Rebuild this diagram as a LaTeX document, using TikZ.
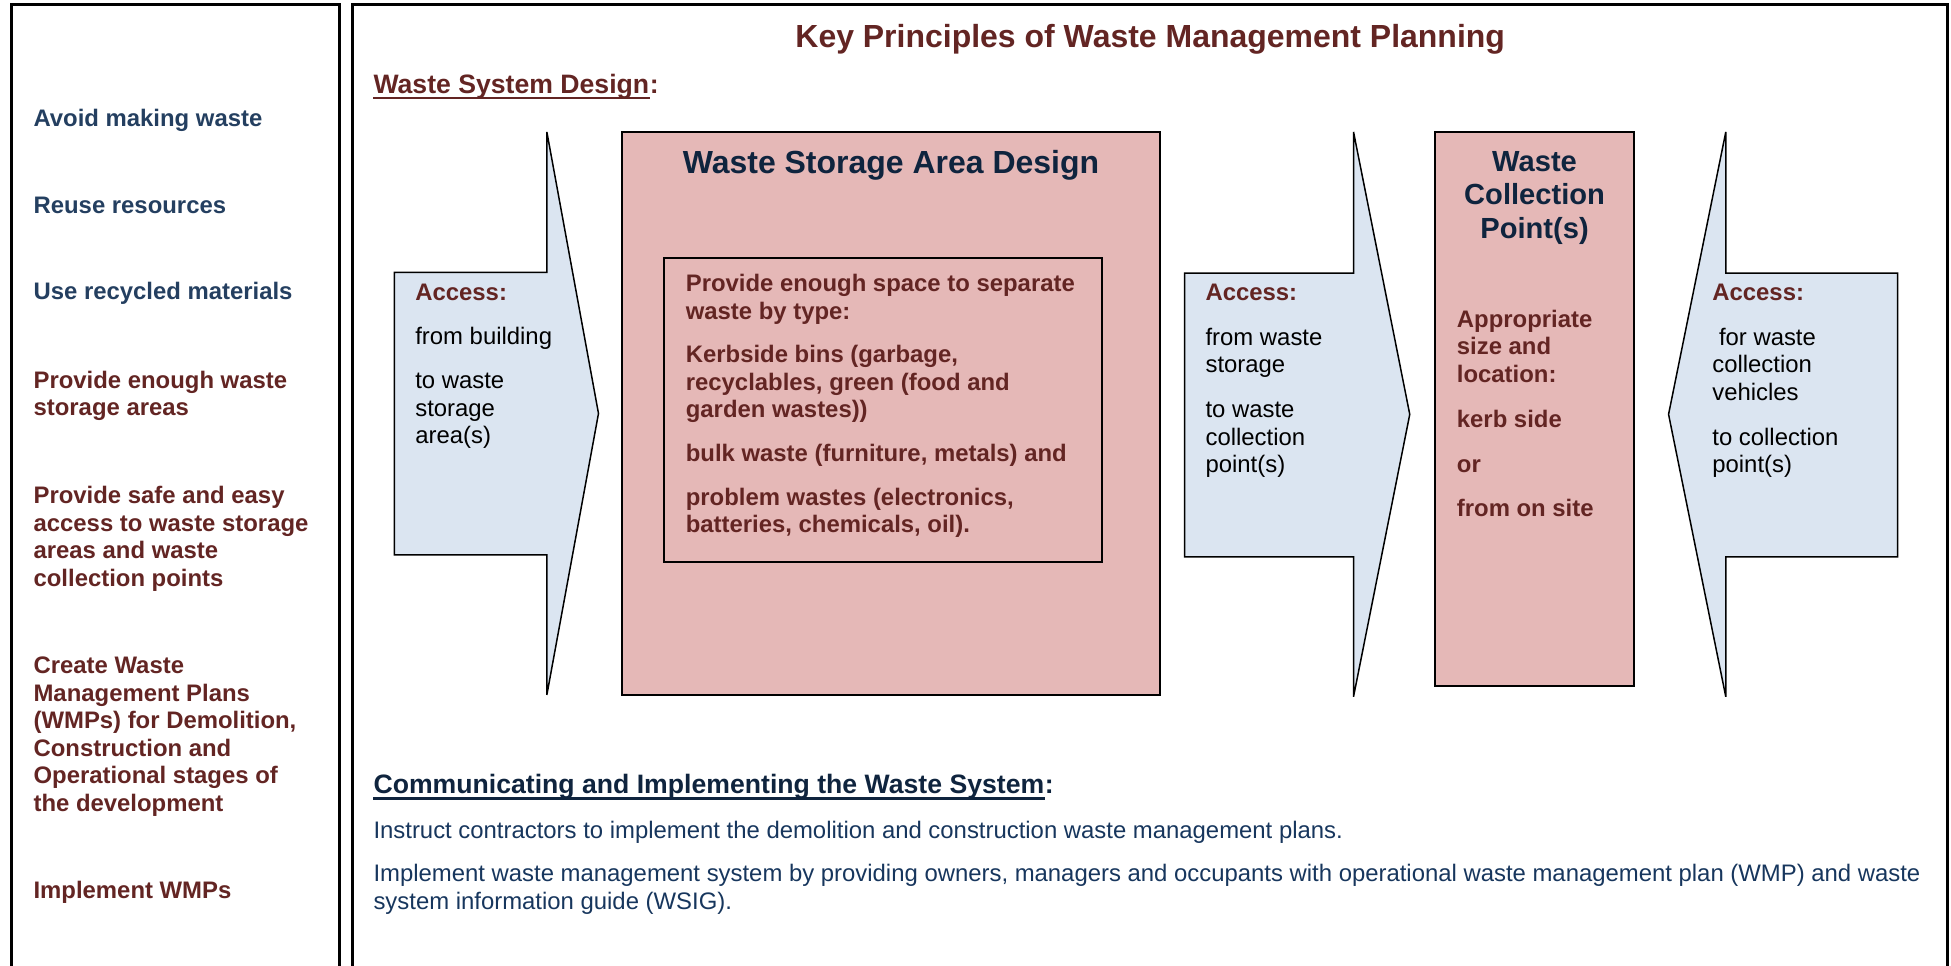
\documentclass[tikz,border=0pt]{standalone}
\usepackage{fontspec}
\setmainfont{Liberation Sans}
\definecolor{dred}{HTML}{632523}
\definecolor{navy}{HTML}{243F60}
\definecolor{dnavy}{HTML}{0F243E}
\definecolor{bnavy}{HTML}{17365D}
\definecolor{pinkfill}{HTML}{E5B8B7}
\definecolor{bluefill}{HTML}{DBE5F1}
\newcommand\mystrut{\rule{0pt}{14.6pt}}
\newcommand\mytstrut{\rule{0pt}{17.8pt}}
\tikzset{
  txt/.style={inner sep=0pt, anchor=north west, align=left, font=\fontsize{19.2}{22.1}\selectfont},
  txtb/.style={txt, font=\fontsize{19.2}{22.1}\selectfont\bfseries},
  subhead/.style={inner sep=0pt, anchor=base west, font=\fontsize{21.4}{24}\selectfont\bfseries},
  bigtitle/.style={inner sep=0pt, anchor=base, font=\fontsize{25.7}{30}\selectfont\bfseries},
  arrowshape/.style={draw=black, line width=1.2pt, fill=bluefill, line join=miter},
  boxshape/.style={draw=black, line width=1.6pt, fill=pinkfill},
  frameline/.style={draw=black, line width=2.4pt},
  uline/.style={line width=2.2pt},
}
\begin{document}
\begin{tikzpicture}[x=1pt, y=-1pt]
\useasboundingbox (0,0) rectangle (1568,775.6);
% frames
\draw[frameline] (9.6,777) -- (9.6,4) -- (272.5,4) -- (272.5,777);
\draw[frameline] (283.2,777) -- (283.2,4) -- (1565,4) -- (1565,777);

% left column
\node[txtb, text=navy] (l1) at (26.8,86.7) {\mystrut Avoid making waste};
\node[txtb, text=navy] (l2) at (26.8,156.4) {\mystrut Reuse resources};
\node[txtb, text=navy] (l3) at (26.8,226.0) {\mystrut Use recycled materials};
\node[txtb, text=dred] (l4) at (26.8,297.4) {\mystrut Provide enough waste\\storage areas};
\node[txtb, text=dred] (l5) at (26.8,390.0) {\mystrut Provide safe and easy\\access to waste storage\\areas and waste\\collection points};
\node[txtb, text=dred] (l6) at (26.8,526.6) {\mystrut Create Waste\\Management Plans\\(WMPs) for Demolition,\\Construction and\\Operational stages of\\the development};
\node[txtb, text=dred] (l7) at (26.8,707.4) {\mystrut Implement WMPs};

% headings
\node[bigtitle, text=dred] (title) at (924.4,38.5) {Key Principles of Waste Management Planning};
\node[subhead, text=dred] (wsd) at (300,75.5) {Waste System Design};
\node[subhead, text=dred] (wsdc) at (wsd.base east) {:};
\draw[uline, dred] ([yshift=-3.3pt]wsd.base west) -- ([yshift=-3.3pt]wsd.base east);

% arrow 1
\draw[arrowshape] (317,219) -- (439.5,219) -- (439.5,106) -- (481,332.3) -- (439.5,558.5) -- (439.5,446) -- (317,446) -- cycle;
\node[txt] (a1) at (333.6,226.4) {\mystrut{\color{dred}\bfseries Access:}\\[13.5pt]from building\\[13.5pt]to waste\\storage\\area(s)};

% storage area
\draw[boxshape] (499.7,106) rectangle (932.6,558.5);
\node[bigtitle, text=dnavy] (sad) at (716.1,139.5) {Waste Storage Area Design};
\draw[black, line width=1.6pt] (533.5,207) rectangle (886,452);
\node[txtb, text=dred] (inner) at (551,219.7) {\mystrut Provide enough space to separate\\waste by type:\\[13pt]Kerbside bins (garbage,\\recyclables, green (food and\\garden wastes))\\[13pt]bulk waste (furniture, metals) and\\[13pt]problem wastes (electronics,\\batteries, chemicals, oil).};

% arrow 2
\draw[arrowshape] (952,219.5) -- (1087.8,219.5) -- (1087.8,106) -- (1133,333) -- (1087.8,560) -- (1087.8,447.6) -- (952,447.6) -- cycle;
\node[txt] (a2) at (968.7,226.6) {\mystrut{\color{dred}\bfseries Access:}\\[14pt]from waste\\storage\\[14pt]to waste\\collection\\point(s)};

% collection point
\draw[boxshape] (1153,106) rectangle (1313.6,551.5);
\node[inner sep=0pt, anchor=north, align=center, font=\fontsize{23.4}{27}\selectfont\bfseries, text=dnavy] (ct) at (1233.3,119.6) {\mytstrut Waste\\Collection\\Point(s)};
\node[txtb, text=dred] (cb) at (1170.7,248.2) {\mystrut Appropriate\\size and\\location:\\[14pt]kerb side\\[14pt]or\\[14pt]from on site};

% arrow 3
\draw[arrowshape] (1525,219.5) -- (1387,219.5) -- (1387,106) -- (1341,333) -- (1387,560) -- (1387,447.6) -- (1525,447.6) -- cycle;
\node[txt] (a3) at (1376,226.6) {\mystrut{\color{dred}\bfseries Access:}\\[14pt]\ for waste\\collection\\vehicles\\[14pt]to collection\\point(s)};

% bottom section
\node[subhead, text=dnavy] (comm) at (300,637.6) {Communicating and Implementing the Waste System};
\node[subhead, text=dnavy] (commc) at (comm.base east) {:};
\draw[uline, dnavy] ([yshift=-4pt]comm.base west) -- ([yshift=-4pt]comm.base east);
\node[txt, text=bnavy] (instr) at (300,659.2) {\mystrut Instruct contractors to implement the demolition and construction waste management plans.};
\node[txt, text=bnavy] (impl) at (300,694.0) {\mystrut Implement waste management system by providing owners, managers and occupants with operational waste management plan (WMP) and waste\\system information guide (WSIG).};
\end{tikzpicture}
\end{document}
